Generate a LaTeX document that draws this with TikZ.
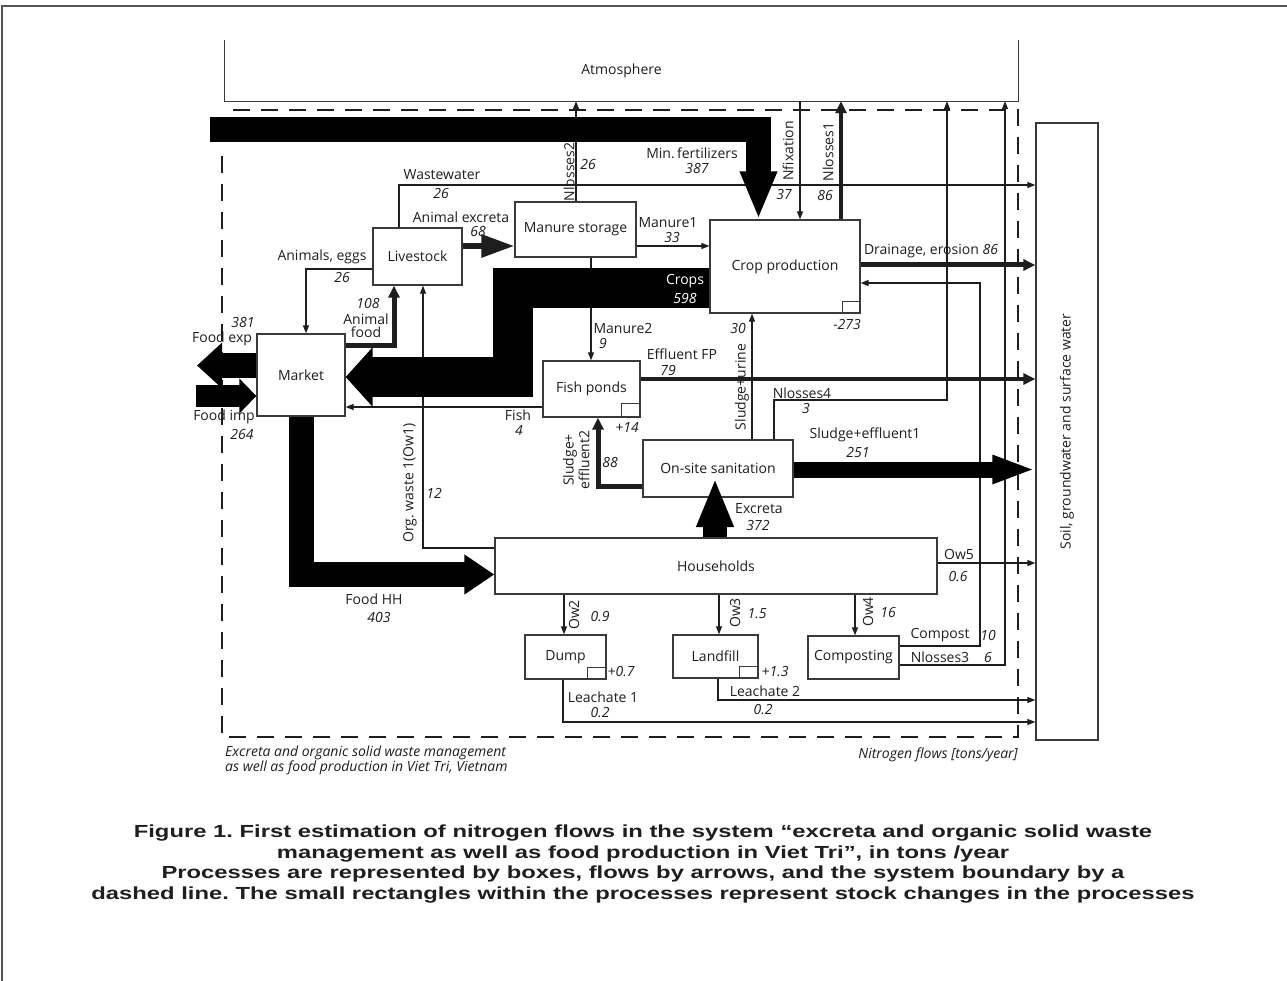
\documentclass[tikz,border=0pt]{standalone}
\usepackage{fontspec}
\setmainfont{Open Sans}
\newfontfamily\capfont[FakeStretch=1.36]{Liberation Sans}
\usetikzlibrary{arrows.meta}

\definecolor{ink}{HTML}{1E1E1E}
\definecolor{boxline}{HTML}{3A3A3A}
\definecolor{framegray}{HTML}{555555}
\newcommand{\lblsize}{\fontsize{14}{15}\selectfont}

\tikzset{
  process/.style={draw=boxline, line width=1.3pt, fill=white, inner sep=0pt, text=ink, font=\lblsize},
  stock/.style={draw=boxline, line width=1.1pt, inner sep=0pt, minimum width=18pt, minimum height=12pt},
  flow/.style={draw=ink, line width=1.2pt, -{Triangle[length=8pt,width=6pt]}},
  thickflow/.style={draw=ink, line width=4pt, -{Triangle[length=12pt,width=11pt]}},
  bigflow/.style={draw=black, line join=miter},
  lbl/.style={inner sep=0pt, text=ink, font=\lblsize},
  num/.style={inner sep=0pt, text=ink, font=\lblsize\itshape},
}

\begin{document}
\frenchspacing
\begin{tikzpicture}[x=1pt, y=-1pt]
\useasboundingbox (0,0) rectangle (1287,981);
% page frame
\draw[framegray, line width=1.2pt] (2,981) -- (2,6) -- (1287,6);

% environment
\node[lbl, minimum width=793pt, minimum height=61pt] (atm) at (621.5,70.5) {Atmosphere};
\draw[boxline, line width=1.3pt] (atm.north west) -- (atm.south west) -- (atm.south east) -- (atm.north east);
\node[process, minimum width=62pt, minimum height=617pt] (soil) at (1067,431.5) {};
\node[lbl, rotate=90] (soiltxt) at (soil.center) {Soil, groundwater and surface water};

% system boundary
\draw[ink, line width=1.5pt, dash pattern=on 17pt off 11pt] (233,110) -- (1018,110) -- (1018,737) -- (222,737) -- (222,150);

% processes
\node[process, minimum width=150pt, minimum height=93pt] (crop) at (785,266.5) {Crop production};
\node[process, minimum width=121pt, minimum height=55pt] (manure) at (575.5,229.5) {Manure storage};
\node[process, minimum width=89pt, minimum height=57pt] (livestock) at (417.5,256.5) {Livestock};
\node[process, minimum width=88pt, minimum height=82pt] (market) at (301,375) {Market};
\node[process, minimum width=97pt, minimum height=56pt] (fish) at (591.5,389) {Fish ponds};
\node[process, minimum width=150pt, minimum height=57pt] (sanit) at (718,468.5) {On-site sanitation};
\node[process, minimum width=442pt, minimum height=56pt] (house) at (716,566) {Households};
\node[process, minimum width=81pt, minimum height=44pt] (dump) at (565.5,657) {Dump};
\node[process, minimum width=85pt, minimum height=43pt] (landfill) at (715.5,656.5) {Landfill};
\node[process, minimum width=91pt, minimum height=43pt] (compost) at (853.5,657.5) {Composting};

% stock changes
\node[stock, anchor=south east] (cropst) at (crop.south east) {};
\node[stock, anchor=south east, minimum width=19pt, minimum height=14pt] (fishst) at (fish.south east) {};
\node[stock, anchor=south east, minimum width=19pt] (dumpst) at (dump.south east) {};
\node[stock, anchor=south east, minimum width=19pt] (landst) at (landfill.south east) {};

% thin flows
\draw[flow] (livestock.north -| 399,0) |- (soil.west |- 0,185);
\draw[flow] (manure.north -| 576,0) -- (atm.south -| 576,0);
\draw[flow] (atm.south -| 800,0) -- (crop.north -| 800,0);
\draw[flow] (sanit.north -| 774,0) |- (947,400) -- (atm.south -| 947,0);
\draw[flow] (compost.east |- 0,665) -| (atm.south -| 1005,0);
\draw[flow] (compost.east |- 0,646) -| (980,283) -- (crop.east |- 0,283);
\draw[flow] (manure.east |- 0,246) -- (crop.west |- 0,246);
\draw[flow] (livestock.west |- 0,269) -| (market.north -| 306,0);
\draw[flow] (house.west |- 0,548) -| (livestock.south -| 423,0);
\draw[flow] (fish.west |- 0,407) -- (market.east |- 0,407);
\draw[flow] (manure.south -| 591,0) -- (fish.north -| 591,0);
\draw[flow] (sanit.north -| 752,0) -- (crop.south -| 752,0);
\draw[flow] (house.east |- 0,563) -- (soil.west |- 0,563);
\draw[flow] (house.south -| 564,0) -- (dump.north -| 564,0);
\draw[flow] (house.south -| 719,0) -- (landfill.north -| 719,0);
\draw[flow] (house.south -| 855,0) -- (compost.north -| 855,0);
\draw[flow] (dump.south -| 563,0) |- (soil.west |- 0,722);
\draw[flow] (landfill.south -| 718,0) |- (soil.west |- 0,700);

% thick flows
\draw[thickflow] (crop.north -| 841,0) -- (atm.south -| 841,0);
\draw[thickflow, line width=5pt] (crop.east |- 0,265) -- (soil.west |- 0,265);
\draw[thickflow] (fish.east |- 0,379) -- (soil.west |- 0,379);
\draw[thickflow, line width=5pt] (sanit.west |- 0,486) -| (fish.south -| 598,0);
\draw[thickflow, line width=5pt] (market.east |- 0,346) -| (livestock.south -| 394,0);
\draw[thickflow, line width=6pt, -{Triangle[length=33pt,width=22pt]}] (livestock.east |- 0,246) -- (manure.west |- 0,246);

% big flows
\coordinate (fertsrc) at (210,129.5);
\coordinate (expend) at (197,365.5);
\coordinate (impsrc) at (196,396);
\coordinate (exctip) at (715,478);
\draw[bigflow, line width=25pt, -{Triangle[length=48pt,width=34pt]}] (fertsrc) -| (crop.north -| 758.5,0);
\draw[bigflow, line width=40pt, -{Triangle[length=27pt,width=58pt]}] (crop.west |- 0,288) -| (512.5,377) -- (market.east |- 0,377);
\draw[bigflow, line width=25pt, -{Triangle[length=25pt,width=44pt]}] (market.west |- 0,365.5) -- (expend);
\draw[bigflow, line width=22pt, -{Triangle[length=17pt,width=34pt]}] (impsrc) -- (market.west |- 0,396);
\draw[bigflow, line width=25pt, -{Triangle[length=30pt,width=38pt]}] (market.south -| 301,0) |- (house.west |- 0,574.5);
\draw[bigflow, line width=24pt, -{Triangle[length=49pt,width=34pt]}] (house.north -| 715,0) -- (exctip);
\draw[bigflow, line width=16pt, -{Triangle[length=43pt,width=26pt]}] (sanit.east |- 0,469.5) -- (soil.west |- 0,469.5);

% flow labels
\node[lbl, rotate=90] (tNl2) at (569,172) {Nlosses2};
\node[num] (vNl2) at (588,165) {26};
\node[lbl, rotate=90] (tNfix) at (788,151) {Nfixation};
\node[num] (vNfix) at (784,195) {37};
\node[lbl, rotate=90] (tNl1) at (828,152) {Nlosses1};
\node[num] (vNl1) at (825,195) {86};
\node[lbl] (tFert) at (692,153) {Min.\,fertilizers};
\node[num] (vFert) at (697,168) {387};
\node[lbl] (tWw) at (442,175) {Wastewater};
\node[num] (vWw) at (441,194) {26};
\node[lbl] (tAex) at (461,217) {Animal excreta};
\node[num] (vAex) at (478,231) {68};
\node[lbl] (tMan1) at (668,223) {Manure1};
\node[num] (vMan1) at (672,238) {33};
\node[lbl] (tDrain) at (931,251) {Drainage, erosion \textit{86}};
\node[lbl] (tEggs) at (322,257) {Animals, eggs};
\node[num] (vEggs) at (342,278) {26};
\node[num] (vAfood) at (368,303) {108};
\node[lbl, align=center] (tAfood) at (366,326) {Animal\\[-2pt]food};
\node[num] (vExp) at (243,322) {381};
\node[lbl] (tExp) at (222,339) {Food exp};
\node[lbl] (tImp) at (224,417) {Food imp};
\node[num] (vImp) at (242,434) {264};
\node[lbl, text=white] (tCrops) at (685,281) {Crops};
\node[num, text=white] (vCrops) at (685,298) {598};
\node[lbl] (tMan2) at (623,328) {Manure2};
\node[num] (vMan2) at (603,343) {9};
\node[lbl] (tEff) at (682,354) {Effluent FP};
\node[num] (vEff) at (668,370) {79};
\node[num] (vSu) at (738,328) {30};
\node[num] (vCropst) at (847,324) {-273};
\node[lbl, rotate=90] (tSu) at (742,387) {Sludge+urine};
\node[lbl] (tNl4) at (802,393) {Nlosses4};
\node[num] (vNl4) at (806,408) {3};
\node[lbl] (tSe1) at (865,435) {Sludge+effluent1};
\node[num] (vSe1) at (858,452) {251};
\node[lbl] (tFish) at (518,415) {Fish};
\node[num] (vFish) at (519,430) {4};
\node[num] (vFishst) at (627,427) {+14};
\node[lbl, rotate=90] (tSe2a) at (570,460) {Sludge+};
\node[lbl, rotate=90] (tSe2b) at (584,460) {effluent2};
\node[num] (vSe2) at (610,462) {88};
\node[lbl, rotate=90] (tOw1) at (410,483) {Org. waste 1(Ow1)};
\node[num] (vOw1) at (434,493) {12};
\node[lbl] (tExc) at (759,509) {Excreta};
\node[num] (vExc) at (758,525) {372};
\node[lbl] (tOw5) at (959,554) {Ow5};
\node[num] (vOw5) at (958,577) {0.6};
\node[lbl] (tFhh) at (374,599) {Food HH};
\node[num] (vFhh) at (379,617) {403};
\node[lbl, rotate=90] (tOw2) at (574,615) {Ow2};
\node[num] (vOw2) at (600,617) {0.9};
\node[lbl, rotate=90] (tOw3) at (735,613) {Ow3};
\node[num] (vOw3) at (757,614) {1.5};
\node[lbl, rotate=90] (tOw4) at (868,612) {Ow4};
\node[num] (vOw4) at (888,612) {16};
\node[num] (vDumpst) at (621,672) {+0.7};
\node[num] (vLandst) at (775,672) {+1.3};
\node[lbl] (tLea1) at (603,697) {Leachate 1};
\node[num] (vLea1) at (600,713) {0.2};
\node[lbl] (tLea2) at (765,691) {Leachate 2};
\node[num] (vLea2) at (763,710) {0.2};
\node[lbl] (tComp) at (940,635) {Compost};
\node[num] (vComp) at (988,635) {10};
\node[lbl] (tNl3) at (940,657) {Nlosses3};
\node[num] (vNl3) at (988,657) {6};

% legend texts
\node[num, align=left, anchor=north west] (sysname) at (225,746) {Excreta and organic solid waste management\\as well as food production in Viet Tri, Vietnam};
\node[num, anchor=north east] (units) at (1018,748) {Nitrogen flows [tons/year]};

% caption
\node[text=ink, inner sep=0pt, align=center, font=\capfont\bfseries\fontsize{17.5}{20.5}\selectfont] (caption) at (643,864) {Figure 1. First estimation of nitrogen flows in the system “excreta and organic solid waste\\management as well as food production in Viet Tri”, in tons /year\\Processes are represented by boxes, flows by arrows, and the system boundary by a\\dashed line. The small rectangles within the processes represent stock changes in the processes};
\end{tikzpicture}
\end{document}
